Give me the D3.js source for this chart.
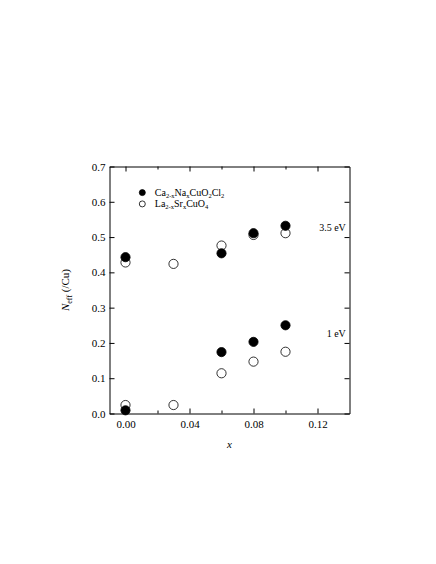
<!DOCTYPE html>
<html>
<head>
<meta charset="utf-8">
<script src="https://cdn.jsdelivr.net/npm/d3@7"></script>
<style>
  body { margin: 0; background: #fff; }
  svg { display: block; }
  .axis text { font-family: "Liberation Serif", "DejaVu Serif", serif; font-size: 11px; fill: #000; }
  .axis path, .axis line { stroke: #000; stroke-width: 1; }
</style>
</head>
<body>
<div id="chart"></div>
<script>
// doping x of each sample
var dopingCa = [0.00, 0.06, 0.08, 0.10];
var dopingLa = [0.00, 0.03, 0.06, 0.08, 0.10];
// N_eff integrated up to 3.5 eV
var caHigh = [0.443, 0.454, 0.511, 0.532];
var laHigh = [0.428, 0.424, 0.476, 0.506, 0.511];
// N_eff integrated up to 1 eV
var caLow = [0.009, 0.174, 0.203, 0.250];
var laLow = [0.024, 0.024, 0.114, 0.147, 0.175];

var xMajor = [0.00, 0.04, 0.08, 0.12];
var xMinor = [0.02, 0.06, 0.10];
var yTicks = [0, 0.1, 0.2, 0.3, 0.4, 0.5, 0.6, 0.7];

var W = 436, H = 564;
var margin = {left: 109.5, top: 166.5, right: 86.5, bottom: 150.5};
var width = W - margin.left - margin.right,
    height = H - margin.top - margin.bottom;

var svg = d3.select("#chart").append("svg").attr("width", W).attr("height", H);
var g = svg.append("g").attr("transform", "translate(" + margin.left + "," + margin.top + ")");

var x = d3.scaleLinear().domain([-0.01, 0.14]).range([0, width]);
var y = d3.scaleLinear().domain([0, 0.7]).range([height, 0]);

// frame + ticks (all pointing inward)
g.append("g").attr("class", "axis")
  .attr("transform", "translate(0," + height + ")")
  .call(d3.axisBottom(x).tickValues(xMajor).tickFormat(d3.format(".2f"))
    .tickSizeInner(-5).tickSizeOuter(0).tickPadding(7));
g.append("g").attr("class", "axis")
  .attr("transform", "translate(0," + height + ")")
  .call(d3.axisBottom(x).tickValues(xMinor).tickFormat("").tickSizeInner(-3).tickSizeOuter(0))
  .select(".domain").remove();
g.append("g").attr("class", "axis")
  .call(d3.axisTop(x).tickValues(xMajor).tickFormat("").tickSizeInner(-5).tickSizeOuter(0));
g.append("g").attr("class", "axis")
  .call(d3.axisTop(x).tickValues(xMinor).tickFormat("").tickSizeInner(-3).tickSizeOuter(0))
  .select(".domain").remove();
g.append("g").attr("class", "axis")
  .call(d3.axisLeft(y).tickValues(yTicks).tickFormat(d3.format(".1f"))
    .tickSizeInner(-5).tickSizeOuter(0).tickPadding(4));
g.append("g").attr("class", "axis")
  .attr("transform", "translate(" + width + ",0)")
  .call(d3.axisRight(y).tickValues(yTicks).tickFormat("").tickSizeInner(-5).tickSizeOuter(0));

var r = 4.6;
function plot(xs, ys, filled) {
  g.append("g").selectAll("circle")
    .data(xs.map(function(d, i) { return [d, ys[i]]; }))
    .enter().append("circle")
    .attr("cx", function(d) { return x(d[0]); })
    .attr("cy", function(d) { return y(d[1]); })
    .attr("r", r)
    .attr("fill", filled ? "#000" : "#fff")
    .attr("stroke", "#000")
    .attr("stroke-width", 0.8);
}
// open circles first so the filled ones sit on top
plot(dopingLa, laHigh, false);
plot(dopingLa, laLow, false);
plot(dopingCa, caHigh, true);
plot(dopingCa, caLow, true);

var serif = "Liberation Serif, DejaVu Serif, serif";

// energy labels
g.append("text").attr("x", x(0.1377)).attr("y", y(0.526) + 3.5)
  .attr("text-anchor", "end").attr("font-family", serif).attr("font-size", 10)
  .text("3.5 eV");
g.append("text").attr("x", x(0.1377)).attr("y", y(0.227) + 3.5)
  .attr("text-anchor", "end").attr("font-family", serif).attr("font-size", 10)
  .text("1 eV");

// legend
var legend = [
  {filled: true, parts: [["Ca", 0], ["2-x", 1], ["Na", 0], ["x", 1], ["CuO", 0], ["2", 1], ["Cl", 0], ["2", 1]]},
  {filled: false, parts: [["La", 0], ["2-x", 1], ["Sr", 0], ["x", 1], ["CuO", 0], ["4", 1]]}
];
legend.forEach(function(item, i) {
  var ly = y(0.626) + i * 11.3;
  g.append("circle").attr("cx", x(0.0105)).attr("cy", ly).attr("r", 3)
    .attr("fill", item.filled ? "#000" : "#fff").attr("stroke", "#000").attr("stroke-width", 0.8);
  var t = g.append("text").attr("x", x(0.0105) + 12.5).attr("y", ly + 3.2)
    .attr("font-family", serif).attr("font-size", 10);
  var prev = 0;
  item.parts.forEach(function(p) {
    var dy = (p[1] ? 2.2 : 0) - prev;
    prev = p[1] ? 2.2 : 0;
    t.append("tspan").attr("dy", dy).attr("font-size", p[1] ? 6.5 : 10).text(p[0]);
  });
});

// axis titles
var yl = svg.append("text")
  .attr("transform", "translate(69," + (margin.top + y(0.35)) + ") rotate(-90)")
  .attr("text-anchor", "middle").attr("font-family", serif).attr("font-size", 11);
yl.append("tspan").attr("font-style", "italic").text("N");
yl.append("tspan").attr("dy", 2.5).attr("font-size", 8).text("eff");
yl.append("tspan").attr("dy", -2.5).text(" (/Cu)");

svg.append("text").attr("x", margin.left + x(0.065)).attr("y", 448)
  .attr("text-anchor", "middle").attr("font-family", serif).attr("font-size", 11)
  .attr("font-style", "italic").text("x");
</script>
</body>
</html>
